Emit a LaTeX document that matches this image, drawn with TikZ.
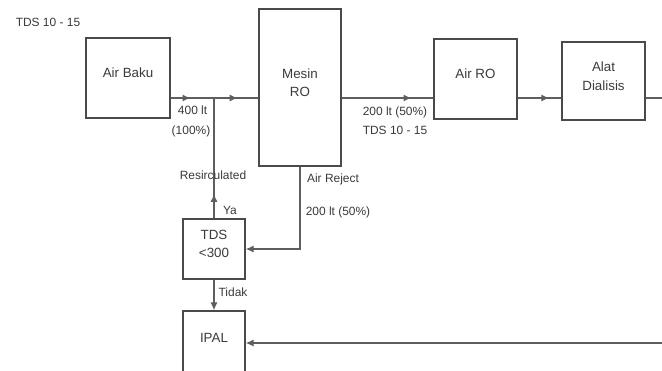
\documentclass[tikz,border=0pt]{standalone}
\usepackage{fontspec}
\setmainfont{Liberation Sans}
\usetikzlibrary{arrows.meta,positioning,decorations.markings}
\definecolor{boxgris}{HTML}{4A4A4A}
\definecolor{lignegris}{HTML}{5E5E5E}
\definecolor{textgris}{HTML}{3A3A3A}

\begin{document}
\begin{tikzpicture}[x=0.025cm,y=-0.025cm, font=\fontsize{8.5}{10}\selectfont, text=textgris,
  bloc/.style={draw=boxgris, line width=1.2pt, align=center, inner sep=0pt, text depth=7pt,
    font=\fontsize{9.5}{13}\selectfont},
  flux/.style={draw=lignegris, line width=0.75pt},
  pointe/.style={-{Latex[length=5.5pt,width=5pt]}},
  milieu/.style={postaction={decorate}, decoration={markings,
    mark=at position #1 with {\arrow{Latex[length=5.5pt,width=5pt]}}}}]
  \useasboundingbox (0,0) rectangle (662,370);
  \node[bloc, minimum width=2.1cm, minimum height=2.0cm] (baku) at (128,78) {Air Baku};
  \node[bloc, minimum width=2.05cm, minimum height=3.925cm] (mesin) at (300,87.5) {Mesin\\RO};
  \node[bloc, minimum width=2.075cm, minimum height=2.0cm] (airro) at (475.5,79) {Air RO};
  \node[bloc, minimum width=2.075cm, minimum height=1.95cm] (dialisis) at (603.5,81) {Alat\\Dialisis};
  \node[bloc, minimum width=1.55cm, minimum height=1.5cm] (tds) at (214,249) {TDS\\<300};
  \node[bloc, minimum width=1.55cm, minimum height=1.6cm] (ipal) at (214,343) {IPAL};
  \coordinate (j) at (214,98);
  \coordinate (keluar) at (662,98);
  \coordinate (balik) at (662,343);
  \draw[flux, milieu=0.45] (baku.east |- j) -- (j);
  \draw[flux, milieu=0.53] (j) -- (mesin.west |- j);
  \draw[flux, milieu=0.76] (mesin.east |- j) -- (airro.west |- j);
  \draw[flux, milieu=0.72] (airro.east |- j) -- (dialisis.west |- j);
  \draw[flux] (dialisis.east |- j) -- (keluar);
  \draw[flux, milieu=0.2] (tds.north) -- (j);
  \draw[flux, pointe] (tds.south) -- (ipal.north);
  \draw[flux, pointe] (mesin.south) |- (tds.east);
  \draw[flux, pointe] (balik) -- (ipal.east);
  \node (tdsawal) at (48,22) {TDS 10 - 15};
  \node[anchor=west] (v400) at (173,110) {400 lt};
  \node (p100) at (191,131) {(100\%)};
  \node (resir) at (213,175) {Resirculated};
  \node (ya) at (230,210) {Ya};
  \node (tidak) at (233,292) {Tidak};
  \node (reject) at (333,179) {Air Reject};
  \node (v200b) at (338,212) {200 lt (50\%)};
  \node (v200a) at (395,112) {200 lt (50\%)};
  \node (tdsro) at (395,130) {TDS 10 - 15};
\end{tikzpicture}
\end{document}
